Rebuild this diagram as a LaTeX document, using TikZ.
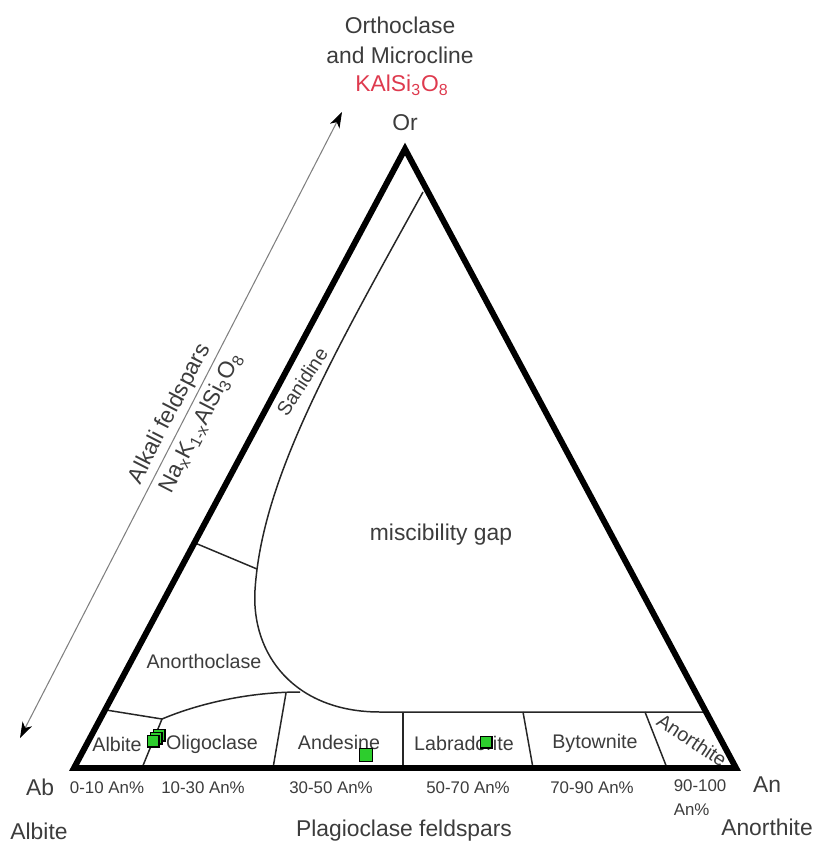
\documentclass[tikz,border=0pt]{standalone}
\usepackage{fontspec}
\setmainfont{Liberation Sans}
\usetikzlibrary{arrows.meta}
\definecolor{labelgray}{RGB}{60,60,60}
\definecolor{formulared}{RGB}{222,58,78}
\definecolor{samplegreen}{RGB}{45,205,45}
\tikzset{
      outline/.style={
        draw=black,
        line width=3.4pt,
        line join=miter
      },
      boundary/.style={draw=black!85, line width=0.85pt},
      toplabel/.style={text=labelgray, inner sep=0pt, font=\fontsize{13}{15}\selectfont},
      fieldlabel/.style={text=labelgray, inner sep=0pt, font=\fontsize{11.2}{13}\selectfont},
      rangelabel/.style={text=labelgray, inner sep=0pt, font=\fontsize{9.6}{13.6}\selectfont},
      sample/.style={
        draw=black,
        line width=0.6pt,
        fill=samplegreen,
        minimum size=6.8pt,
        inner sep=0pt
      }
    }

\begin{document}
\begin{tikzpicture}[x=0.02cm,y=-0.02cm]
    \useasboundingbox (0,0) rectangle (813,844);
    % corners of the ternary diagram
    \coordinate (Ab) at (74,768);
    \coordinate (An) at (736,768);
    \coordinate (Or) at (405,149);
    \coordinate (arrlo) at (20,738);
    \coordinate (arrhi) at (342,112);

    % field boundaries
    \draw[boundary] (423,192) .. controls (330,360) and (262,480) .. (255,590)
        .. controls (251,655) and (295,712) .. (380,712) -- (706,712);
    \draw[boundary] (195,543) -- (257,569);
    \draw[boundary] (106,710) -- (162,719);
    \draw[boundary] (162,719) -- (142,768);
    \draw[boundary] (162,719) .. controls (200,703) and (250,692) .. (300,692);
    \draw[boundary] (286,693) -- (273,768);
    \draw[boundary] (403,712) -- (403,768);
    \draw[boundary] (523,712) -- (533,768);
    \draw[boundary] (645,712) -- (667,768);

    % alkali feldspar arrow
    \draw[draw=gray, line width=0.6pt, {Stealth[length=9pt,width=6pt,inset=2.5pt,black]}-{Stealth[length=9pt,width=6pt,inset=2.5pt,black]}] (arrlo) -- (arrhi);
    \node[toplabel, rotate=62.8] (alkali) at (170,414) {Alkali feldspars};
    \node[toplabel, rotate=62.8] (alkform) at (201,423) {Na\textsubscript{x}K\textsubscript{1-x}AlSi\textsubscript{3}O\textsubscript{8}};

    % end members
    \node[toplabel] (ortho) at (400,25) {Orthoclase};
    \node[toplabel] (micro) at (400,55) {and Microcline};
    \node[toplabel, text=formulared] (kform) at (402,85) {KAlSi\textsubscript{3}O\textsubscript{8}};
    \node[toplabel] (orlbl) at (405,123) {Or};
    \node[toplabel] (ablbl) at (40,787) {Ab};
    \node[toplabel] (albite) at (39,831) {Albite};
    \node[toplabel] (anlbl) at (767,785) {An};
    \node[toplabel] (anorth) at (767,827) {Anorthite};
    \node[toplabel] (plag) at (404,831) {Plagioclase feldspars};

    % fields
    \node[toplabel] (gap) at (441,535) {miscibility gap};
    \node[fieldlabel, rotate=57] (sani) at (302,382) {Sanidine};
    \node[fieldlabel] (anoc) at (204,661) {Anorthoclase};
    \node[fieldlabel] (albf) at (117,744) {Albite};
    \node[fieldlabel] (olig) at (212,744) {Oligoclase};
    \node[fieldlabel] (ande) at (339,742) {Andesine};
    \node[fieldlabel] (labr) at (464,743) {Labradorite};
    \node[fieldlabel] (byto) at (595,743) {Bytownite};
    \node[fieldlabel, rotate=-33.5] (anof) at (692,740) {Anorthite};

    % composition ranges
    \node[rangelabel] (r1) at (107,788) {0-10 An\%};
    \node[rangelabel] (r2) at (203,788) {10-30 An\%};
    \node[rangelabel] (r3) at (331,788) {30-50 An\%};
    \node[rangelabel] (r4) at (468,788) {50-70 An\%};
    \node[rangelabel] (r5) at (592,788) {70-90 An\%};
    \node[rangelabel, align=left] (r6) at (700,798) {90-100\\An\%};

    \draw[outline] (Ab) -- (Or) -- (An) -- cycle;

    % samples
    \node[sample] (s1) at (159,735) {};
    \node[sample] (s2) at (156,738) {};
    \node[sample] (s3) at (153,741) {};
    \node[sample, minimum size=7.4pt] (s4) at (366,755) {};
    \node[sample] (s5) at (486,742) {};
\end{tikzpicture}
\end{document}
